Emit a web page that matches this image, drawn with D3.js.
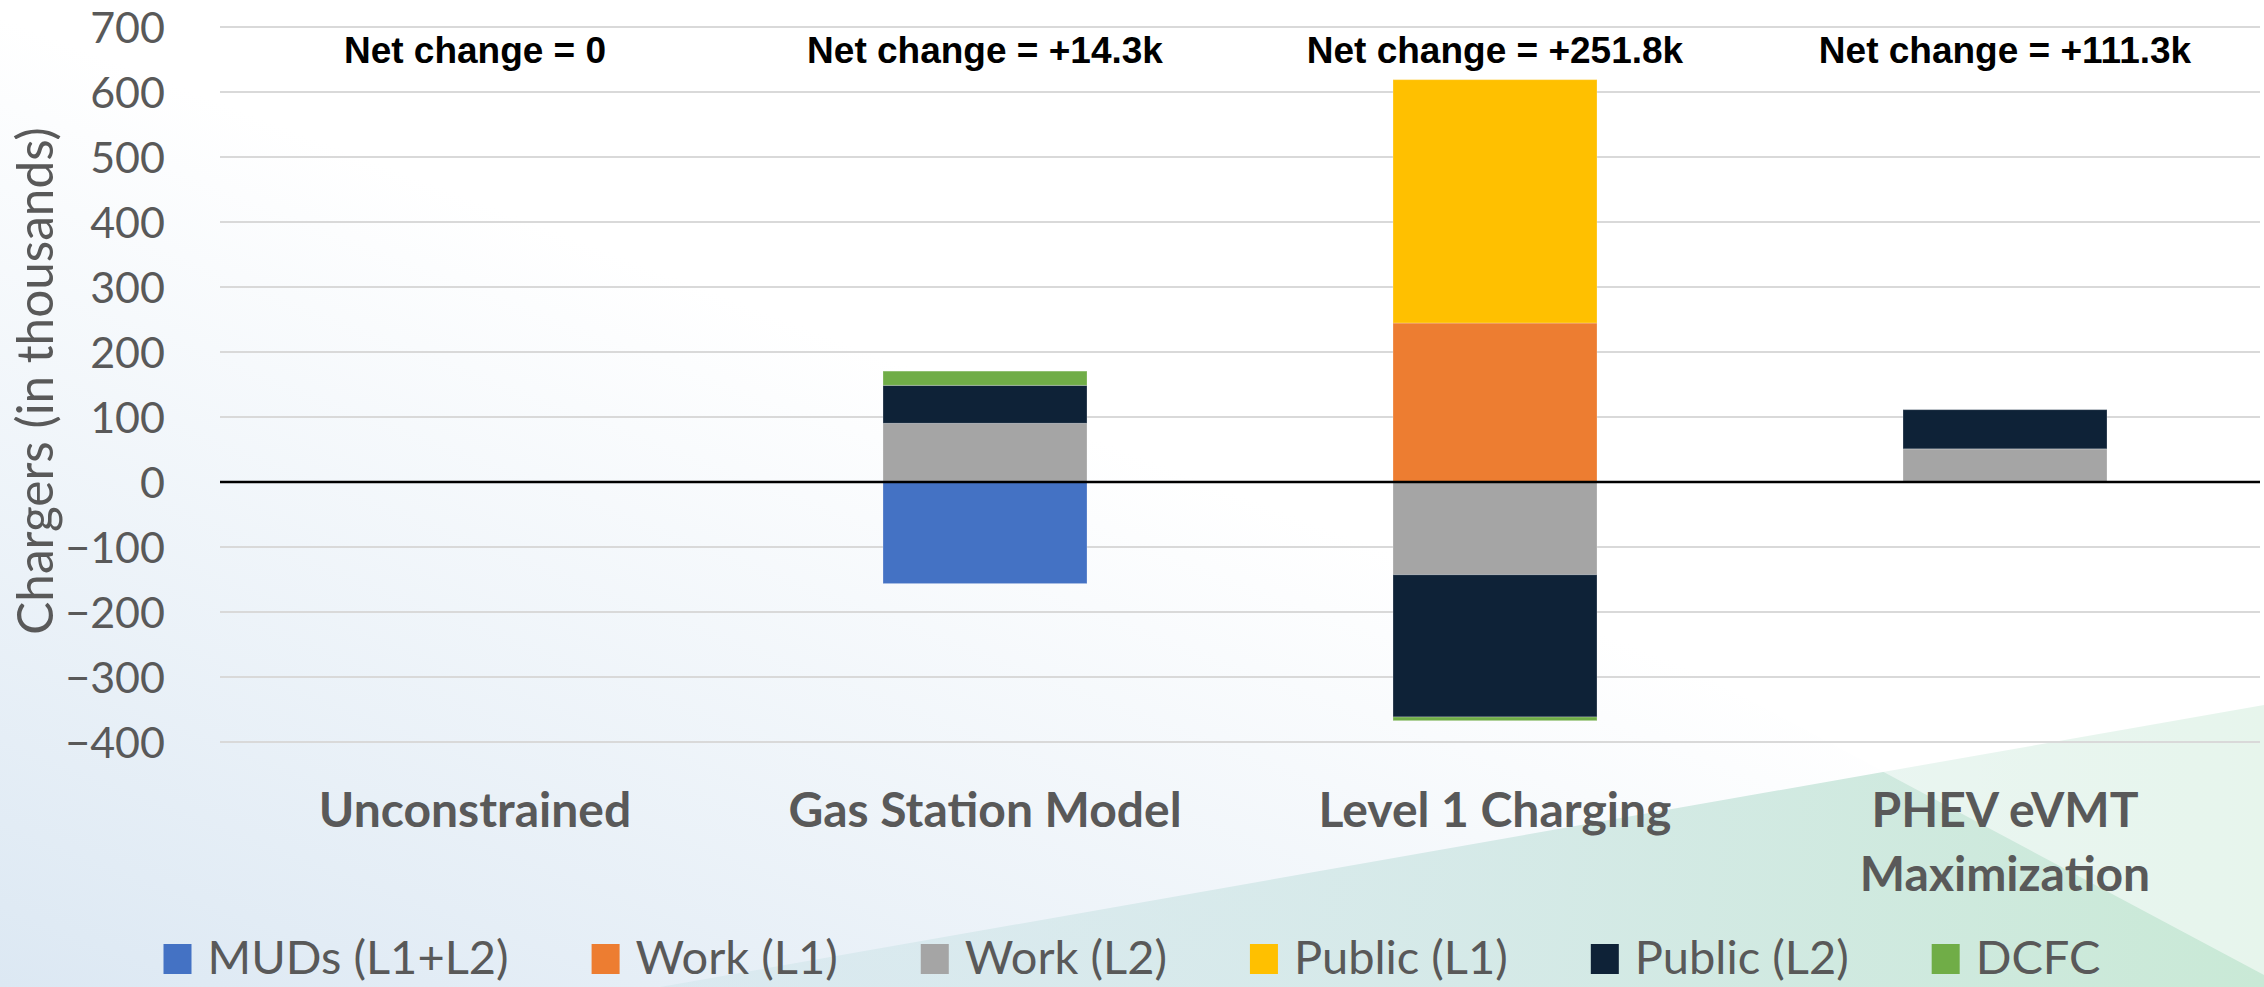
<!DOCTYPE html>
<html>
<head>
<meta charset="utf-8">
<script src="https://cdn.jsdelivr.net/npm/d3@7"></script>
<style>
  html, body { margin: 0; padding: 0; background: #ffffff; }
  svg { display: block; }
</style>
</head>
<body>
<svg id="chart" width="2264" height="987"></svg>
<script>
// ---------- data ----------
const categories = ["Unconstrained", "Gas Station Model", "Level 1 Charging", "PHEV eVMT Maximization"];
const categoryLines = [["Unconstrained"], ["Gas Station Model"], ["Level 1 Charging"], ["PHEV eVMT", "Maximization"]];
const seriesNames = ["MUDs (L1+L2)", "Work (L1)", "Work (L2)", "Public (L1)", "Public (L2)", "DCFC"];
const seriesColors = ["#4472c4", "#ed7d31", "#a5a5a5", "#ffc000", "#0e2237", "#70ad47"];
// values in thousands, one array per series, in category order
const mudsValues     = [0, -156.3,    0,    0];
const workL1Values   = [0,    0,  244.6,   0];
const workL2Values   = [0,   90.3, -142.6, 51.0];
const publicL1Values = [0,    0,  374.4,   0];
const publicL2Values = [0,   58.4, -218.9, 60.3];
const dcfcValues     = [0,   21.9,  -5.7,   0];
const netLabels = ["Net change = 0", "Net change = +14.3k", "Net change = +251.8k", "Net change = +111.3k"];
const yTicks = [-400, -300, -200, -100, 0, 100, 200, 300, 400, 500, 600, 700];
const yTitle = "Chargers (in thousands)";

const seriesValues = [mudsValues, workL1Values, workL2Values, publicL1Values, publicL2Values, dcfcValues];

// ---------- layout ----------
const W = 2264, H = 987;
const plotLeft = 220, plotRight = 2260, plotTop = 27, plotBottom = 742;
const svg = d3.select("#chart");

// background
const defs = svg.append("defs");
const bg = defs.append("linearGradient").attr("id", "bgGrad")
  .attr("x1", "0.75").attr("y1", "0.15").attr("x2", "0").attr("y2", "1");
bg.append("stop").attr("offset", "0").attr("stop-color", "#ffffff");
bg.append("stop").attr("offset", "0.35").attr("stop-color", "#ffffff");
bg.append("stop").attr("offset", "1").attr("stop-color", "#dce8f3");
const teal = defs.append("linearGradient").attr("id", "tealGrad")
  .attr("x1", "0").attr("y1", "0").attr("x2", "1").attr("y2", "0");
teal.append("stop").attr("offset", "0").attr("stop-color", "#cfe4ea").attr("stop-opacity", "0.5");
teal.append("stop").attr("offset", "0.5").attr("stop-color", "#d2e8e6").attr("stop-opacity", "0.9");
teal.append("stop").attr("offset", "1").attr("stop-color", "#c9e9d6").attr("stop-opacity", "1");

svg.append("rect").attr("width", W).attr("height", H).attr("fill", "url(#bgGrad)");
svg.append("polygon").attr("points", "660,987 2264,705 2264,987").attr("fill", "url(#tealGrad)");
svg.append("polygon").attr("points", "1580,610 2264,480 2264,975").attr("fill", "#ffffff").attr("opacity", 0.55);

// scales
const x = d3.scaleBand().domain(categories).range([plotLeft, plotRight])
  .paddingInner(0.6).paddingOuter(0.3);
const y = d3.scaleLinear().domain([-400, 700]).range([plotBottom, plotTop]);

// gridlines
svg.append("g").selectAll("line").data(yTicks.filter(d => d !== 0)).join("line")
  .attr("x1", plotLeft).attr("x2", plotRight)
  .attr("y1", d => y(d)).attr("y2", d => y(d))
  .attr("stroke", "#d9d9d9").attr("stroke-width", 2);

// y axis labels
const yAxis = d3.axisLeft(y).tickValues(yTicks).tickSize(0).tickPadding(0).tickFormat(d3.format("d"));
const yg = svg.append("g").attr("transform", `translate(${plotLeft - 55},0)`).call(yAxis);
yg.select(".domain").remove();
yg.selectAll("text")
  .attr("font-family", "Lato, 'Open Sans', sans-serif")
  .attr("font-size", 43).attr("fill", "#595959").attr("dy", "0.36em");

// y title
svg.append("text")
  .attr("transform", `translate(53,381) rotate(-90)`)
  .attr("text-anchor", "middle")
  .attr("font-family", "Lato, 'Open Sans', sans-serif")
  .attr("font-size", 49.5).attr("fill", "#595959")
  .text(yTitle);

// stacked bars
const rows = categories.map((c, i) => {
  const r = { cat: c };
  seriesNames.forEach((s, j) => { r[s] = seriesValues[j][i]; });
  return r;
});
const stack = d3.stack().keys(seriesNames).offset(d3.stackOffsetDiverging);
const stacked = stack(rows);

svg.append("g").selectAll("g").data(stacked).join("g")
  .attr("fill", (d, i) => seriesColors[i])
  .selectAll("rect").data(d => d.filter(p => p[1] - p[0] !== 0)).join("rect")
  .attr("x", d => x(d.data.cat))
  .attr("width", x.bandwidth())
  .attr("y", d => y(Math.max(d[0], d[1])))
  .attr("height", d => Math.abs(y(d[0]) - y(d[1])))
  .attr("stroke", "rgba(255,255,255,0.25)").attr("stroke-width", 1);

// zero line
svg.append("line")
  .attr("x1", plotLeft).attr("x2", plotRight)
  .attr("y1", y(0)).attr("y2", y(0))
  .attr("stroke", "#000000").attr("stroke-width", 2.5);

// net change labels
svg.append("g").selectAll("text").data(netLabels).join("text")
  .attr("x", (d, i) => x(categories[i]) + x.bandwidth() / 2)
  .attr("y", 63)
  .attr("text-anchor", "middle")
  .attr("font-family", "'Liberation Sans', Arial, sans-serif")
  .attr("font-weight", "bold")
  .attr("font-size", 37).attr("fill", "#000000")
  .text(d => d);

// category labels
const catG = svg.append("g").selectAll("text").data(categoryLines).join("text")
  .attr("text-anchor", "middle")
  .attr("font-family", "Lato, 'Open Sans', sans-serif")
  .attr("font-weight", "bold")
  .attr("font-size", 48).attr("fill", "#595959")
  .attr("transform", (d, i) => `translate(${x(categories[i]) + x.bandwidth() / 2},827)`);
catG.selectAll("tspan").data(d => d).join("tspan")
  .attr("x", 0).attr("y", (d, k) => k * 64)
  .text(d => d);

// legend
const legend = svg.append("g");
const items = legend.selectAll("g").data(seriesNames).join("g");
items.append("rect").attr("width", 28).attr("height", 30).attr("y", -30)
  .attr("fill", (d, i) => seriesColors[i]);
items.append("text").attr("x", 44).attr("y", 0)
  .attr("font-family", "Lato, 'Open Sans', sans-serif")
  .attr("font-size", 47).attr("fill", "#595959")
  .text(d => d);
const widths = [];
items.each(function() {
  const tw = d3.select(this).select("text").node().getComputedTextLength();
  widths.push(44 + tw);
});
const gap = 83;
const total = d3.sum(widths) + gap * (widths.length - 1);
let startX = W / 2 - total / 2;
items.attr("transform", (d, i) => {
  const tx = startX;
  startX += widths[i] + gap;
  return `translate(${tx},974)`;
});
</script>
</body>
</html>
